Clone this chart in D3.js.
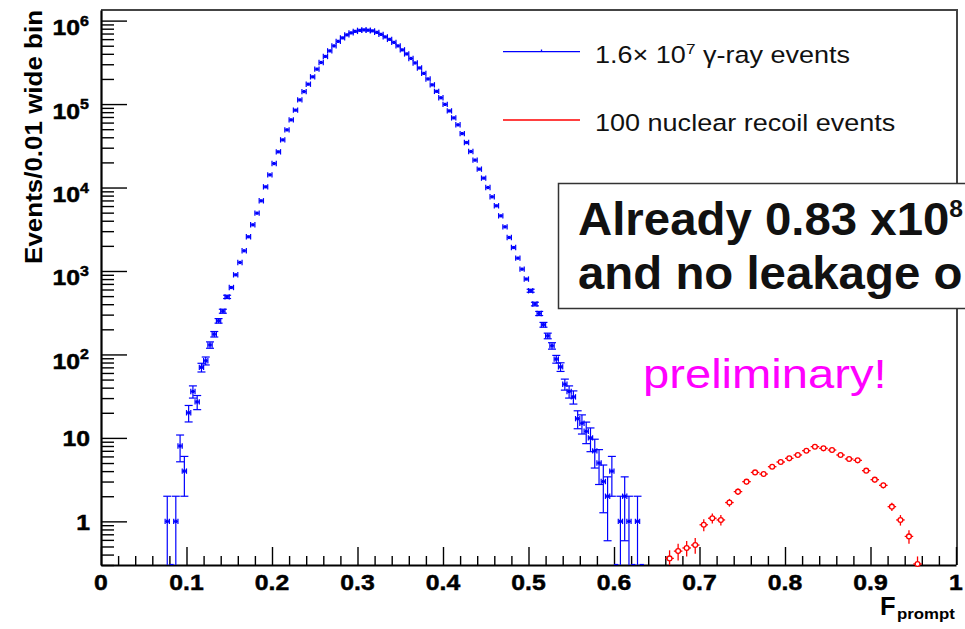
<!DOCTYPE html>
<html><head><meta charset="utf-8">
<script src="https://cdn.jsdelivr.net/npm/d3@7"></script>
<style>body{margin:0;background:#fff}svg{display:block}</style>
</head><body>
<svg id="c" width="965" height="629"></svg>
<script>
// ---------------- data ----------------
const xRange = [0, 1];
const yRange = [0.3, 1.34e6];
const xTickValues = [0, 0.1, 0.2, 0.3, 0.4, 0.5, 0.6, 0.7, 0.8, 0.9, 1];
const xTickLabels = ["0", "0.1", "0.2", "0.3", "0.4", "0.5", "0.6", "0.7", "0.8", "0.9", "1"];
const yTickValues = [1, 10, 100, 1e3, 1e4, 1e5, 1e6];
const yTickBase = ["1", "10", "10", "10", "10", "10", "10"];
const yTickExp = ["", "", "2", "3", "4", "5", "6"];

// gamma-ray histogram: bins 0.005 wide, first bin centre 0.0775
const gammaFirstCenter = 0.0775;
const gammaBinWidth = 0.005;
const gammaCounts = [
  1, 0, 1, 8, 4, 20, 36, 27, 70, 84,
  130, 175, 253, 330, 490, 634, 900, 1265, 1746, 2570,
  3575, 4930, 6930, 10190, 14190, 19370, 26770, 37240, 49100, 64700,
  84500, 112200, 141000, 173000, 212000, 262000, 315000, 372000, 434000, 498000,
  564000, 621000, 675000, 713000, 743000, 764000, 774000, 767000, 754000, 723000,
  684000, 638000, 596000, 548000, 498000, 446000, 399000, 352000, 311000, 271000,
  233000, 200000, 170000, 142000, 119000, 99100, 82800, 68300, 56400, 44300,
  34600, 27000, 21300, 16600, 12960, 10000, 7740, 6040, 4580, 3380,
  2520, 1910, 1425, 1052, 800, 580, 402, 310, 227, 167,
  127, 88, 71, 44, 36, 31, 17, 15, 12, 10,
  7, 5, 3, 2, 4, 0, 1, 2, 1, 0,
  1, 0
];

// nuclear recoil histogram: bins 0.01 wide
const recoilCenters = [0.665, 0.675, 0.685, 0.695, 0.705, 0.715, 0.725, 0.735, 0.745, 0.755,
  0.765, 0.775, 0.785, 0.795, 0.805, 0.815, 0.825, 0.835, 0.845, 0.855,
  0.865, 0.875, 0.885, 0.895, 0.905, 0.915, 0.925, 0.935, 0.945, 0.955];
const recoilValues = [0.36, 0.44, 0.48, 0.52, 0.91, 1.09, 1.04, 1.68, 2.27, 2.99,
  3.86, 3.69, 4.52, 5.14, 5.69, 6.24, 7.03, 7.85, 7.5, 7.16,
  6.24, 5.59, 5.38, 4.05, 3.16, 2.70, 1.50, 1.04, 0.66, 0.30];
const recoilErrors = [0.09, 0.10, 0.10, 0.11, 0.15, 0.15, 0.15, 0.18, 0.20, 0.22,
  0.25, 0.25, 0.28, 0.30, 0.30, 0.32, 0.34, 0.35, 0.35, 0.34,
  0.32, 0.30, 0.30, 0.26, 0.23, 0.21, 0.17, 0.15, 0.12, 0.08];
const recoilBinWidth = 0.01;

const legendLabels = ["1.6× 10", "7", " γ-ray events", "100 nuclear recoil events"];
const boxLines = ["Already 0.83 x10", "8", "and no leakage o"];
const stampText = "preliminary!";

// ---------------- drawing ----------------
const FONT = "'Liberation Sans', Arial, Helvetica, sans-serif";
const svg = d3.select("#c");
const X0 = 101, X1 = 956, Y0 = 565, Y1 = 10;
const x = d3.scaleLinear().domain(xRange).range([X0, X1]);
const y = d3.scaleLog().domain(yRange).range([Y0, Y1]);
const yMin = yRange[0];
const BLUE = "#0000ff", RED = "#ff0000";

function stext(g, tx, ty, sx, opts) {
  const t = g.append("text")
    .attr("transform", `translate(${tx},${ty}) scale(${sx},1)`)
    .attr("font-family", FONT)
    .attr("font-size", opts.size)
    .attr("font-weight", opts.weight || "normal")
    .attr("fill", opts.fill || "#000")
    .attr("text-anchor", opts.anchor || "start");
  if (opts.thick) t.attr("stroke", opts.fill || "#000").attr("stroke-width", opts.thick);
  return t;
}

// frame (top & right)
svg.append("line").attr("x1", X0).attr("x2", 958).attr("y1", Y1).attr("y2", Y1)
  .attr("stroke", "#444").attr("stroke-width", 2);
svg.append("line").attr("x1", 957).attr("x2", 957).attr("y1", Y1).attr("y2", Y0)
  .attr("stroke", "#444").attr("stroke-width", 2);

// x axis ticks
const xMinor = d3.range(0, 51).map(i => i * 0.02).filter(v => Math.abs(v * 10 - Math.round(v * 10)) > 1e-6);
const gx = svg.append("g").attr("transform", `translate(0,${Y0})`);
gx.call(d3.axisBottom(x).tickValues(xTickValues).tickSize(-18).tickFormat("").tickSizeOuter(0));
const gxm = svg.append("g").attr("transform", `translate(0,${Y0})`);
gxm.call(d3.axisBottom(x).tickValues(xMinor).tickSize(-9).tickFormat("").tickSizeOuter(0));
gxm.select(".domain").remove();
[gx, gxm].forEach(g => g.selectAll(".tick line").attr("stroke", "#000").attr("stroke-width", 1.4));
gx.select(".domain").attr("stroke", "#000").attr("stroke-width", 2.2);

// y axis ticks
const yMinorVals = [];
for (let e = -1; e <= 6; e++) for (let k = 2; k <= 9; k++) {
  const v = k * Math.pow(10, e);
  if (v >= yRange[0] && v <= yRange[1]) yMinorVals.push(v);
}
const gy = svg.append("g").attr("transform", `translate(${X0},0)`);
gy.call(d3.axisLeft(y).tickValues(yTickValues).tickSize(-26).tickFormat("").tickSizeOuter(0));
const gym = svg.append("g").attr("transform", `translate(${X0},0)`);
gym.call(d3.axisLeft(y).tickValues(yMinorVals).tickSize(-13).tickFormat("").tickSizeOuter(0));
gym.select(".domain").remove();
[gy, gym].forEach(g => g.selectAll(".tick line").attr("stroke", "#000").attr("stroke-width", 1.4));
gy.select(".domain").attr("stroke", "#000").attr("stroke-width", 2.2);

// x tick labels
xTickValues.forEach((v, i) => {
  stext(svg, x(v), 590, 1.1, {size: 22.5, weight: "bold", anchor: "middle", thick: 0.5}).text(xTickLabels[i]);
});
// y tick labels
yTickValues.forEach((v, i) => {
  const ty = y(v);
  if (yTickExp[i] === "") {
    stext(svg, 90, ty + 8.5, 1.1, {size: 22.5, weight: "bold", anchor: "end", thick: 0.5}).text(yTickBase[i]);
  } else {
    const t = stext(svg, 89, ty + 14.5, 1.1, {size: 22.5, weight: "bold", anchor: "end", thick: 0.5});
    t.append("tspan").text(yTickBase[i]);
    t.append("tspan").attr("font-size", 14.5).attr("dy", -9.5).text(yTickExp[i]);
  }
});

// axis titles
svg.append("text")
  .attr("transform", "translate(41.5,10) rotate(-90) scale(1.06,1)")
  .attr("font-family", FONT).attr("font-size", 24.5).attr("font-weight", "bold")
  .attr("text-anchor", "end").text("Events/0.01 wide bin");
stext(svg, 880, 615, 1.0, {size: 25.5, weight: "bold"}).text("F");
stext(svg, 897, 618.5, 1.12, {size: 15, weight: "bold"}).text("prompt");

// ---- gamma histogram ----
const gG = svg.append("g").attr("stroke", BLUE).attr("stroke-width", 1.2).attr("fill", "none");
const gammaBins = gammaCounts.map((n, i) => ({c: gammaFirstCenter + i * gammaBinWidth, n}));
const hw = gammaBinWidth / 2;
gammaBins.forEach(b => {
  const xl = x(b.c - hw), xr = x(b.c + hw), xc = x(b.c);
  if (b.n <= 0) {
    gG.append("line").attr("x1", xl).attr("x2", xr).attr("y1", Y0 - 0.5).attr("y2", Y0 - 0.5);
    return;
  }
  const e = Math.sqrt(b.n);
  const yc = y(b.n), yHi = y(b.n + e);
  const lo = b.n - e;
  const yLo = lo > yMin ? y(lo) : Y0;
  if (yLo - yHi > 3) {
    gG.append("line").attr("x1", xc).attr("x2", xc).attr("y1", yHi).attr("y2", yLo);
    gG.append("line").attr("x1", xc - 4).attr("x2", xc + 4).attr("y1", yHi).attr("y2", yHi);
    if (lo > yMin) gG.append("line").attr("x1", xc - 4).attr("x2", xc + 4).attr("y1", yLo).attr("y2", yLo);
  }
  gG.append("line").attr("x1", xl).attr("x2", xr).attr("y1", yc).attr("y2", yc);
  gG.append("line").attr("x1", xl).attr("x2", xl).attr("y1", yc - 2.7).attr("y2", yc + 2.7);
  gG.append("line").attr("x1", xr).attr("x2", xr).attr("y1", yc - 2.7).attr("y2", yc + 2.7);
  gG.append("rect").attr("x", xc - 1.4).attr("y", yc - 1.6).attr("width", 2.8).attr("height", 3.2)
    .attr("fill", BLUE).attr("stroke", "none");
});

// ---- recoil histogram ----
const gR = svg.append("g").attr("stroke", RED).attr("stroke-width", 1.3);
recoilCenters.forEach((c, i) => {
  const v = recoilValues[i], e = recoilErrors[i];
  const yc = Math.min(y(Math.max(v, yMin)), Y0 - 1);
  const yHi = y(v + e);
  const yLo = (v - e) > yMin ? y(v - e) : Y0;
  gR.append("line").attr("x1", x(c)).attr("x2", x(c)).attr("y1", yHi).attr("y2", yLo);
  gR.append("line").attr("x1", x(c - recoilBinWidth / 2)).attr("x2", x(c + recoilBinWidth / 2))
    .attr("y1", yc).attr("y2", yc);
  gR.append("circle").attr("cx", x(c)).attr("cy", yc).attr("r", 2.4).attr("fill", "#fff");
});

// ---- legend ----
svg.append("line").attr("x1", 503).attr("x2", 580).attr("y1", 51.7).attr("y2", 51.7)
  .attr("stroke", BLUE).attr("stroke-width", 1.3);
svg.append("line").attr("x1", 541.5).attr("x2", 541.5).attr("y1", 49.5).attr("y2", 51.7)
  .attr("stroke", BLUE).attr("stroke-width", 1.3);
svg.append("line").attr("x1", 503).attr("x2", 580).attr("y1", 120).attr("y2", 120)
  .attr("stroke", RED).attr("stroke-width", 1.3);
const lt = stext(svg, 595, 62.5, 1.15, {size: 23.5, fill: "#111"});
lt.append("tspan").text(legendLabels[0]);
lt.append("tspan").attr("font-size", 15).attr("dy", -9).text(legendLabels[1]);
lt.append("tspan").attr("font-size", 23.5).attr("dy", 9).text(legendLabels[2]);
stext(svg, 595, 131, 1.15, {size: 23.5, fill: "#111"}).text(legendLabels[3]);

// ---- annotation box ----
svg.append("rect").attr("x", 558.5).attr("y", 183.5).attr("width", 440).attr("height", 125)
  .attr("fill", "#fff").attr("stroke", "#333").attr("stroke-width", 1.5);
const b1 = stext(svg, 578, 235, 1.03, {size: 46, weight: "bold", fill: "#111"});
b1.append("tspan").text(boxLines[0]);
b1.append("tspan").attr("font-size", 24).attr("dy", -18).text(boxLines[1]);
stext(svg, 578, 288.5, 1.03, {size: 46, weight: "bold", fill: "#111"}).text(boxLines[2]);

// ---- preliminary stamp ----
stext(svg, 643, 388, 1.15, {size: 41, fill: "#ff00ff"}).text(stampText);
</script>
</body></html>
